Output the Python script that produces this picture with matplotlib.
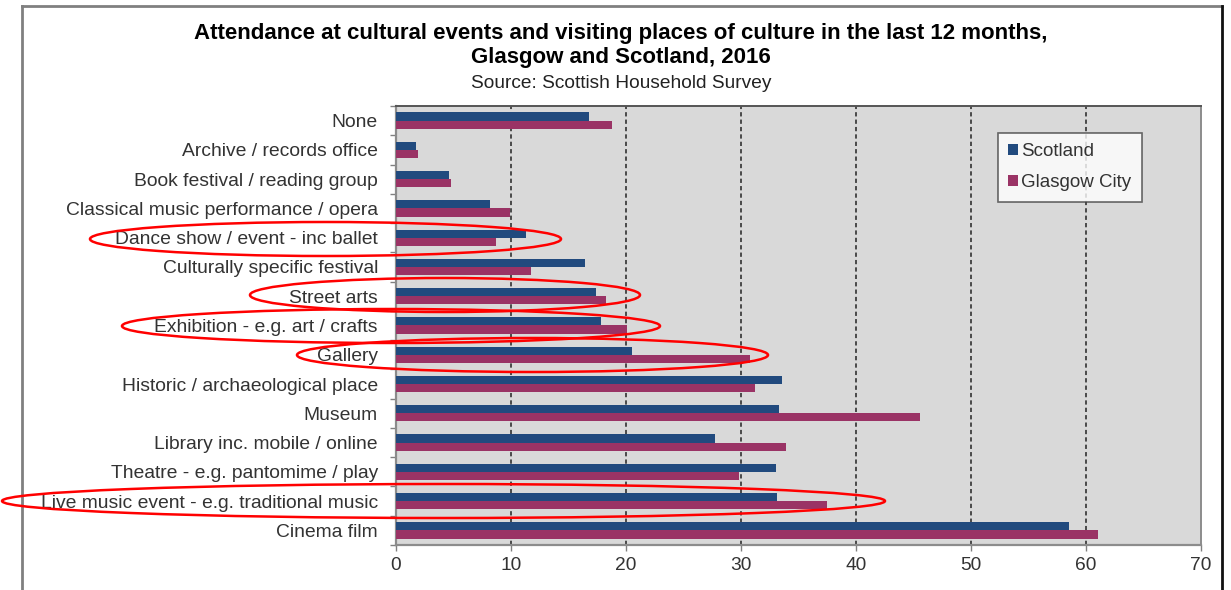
import matplotlib
matplotlib.use("Agg")
import matplotlib.pyplot as plt
from matplotlib.patches import Ellipse, Patch
from matplotlib.lines import Line2D
import numpy as np

plt.rcParams['font.family'] = ['Liberation Sans', 'DejaVu Sans']

categories = [
    "None",
    "Archive / records office",
    "Book festival / reading group",
    "Classical music performance / opera",
    "Dance show / event - inc ballet",
    "Culturally specific festival",
    "Street arts",
    "Exhibition - e.g. art / crafts",
    "Gallery",
    "Historic / archaeological place",
    "Museum",
    "Library inc. mobile / online",
    "Theatre - e.g. pantomime / play",
    "Live music event - e.g. traditional music",
    "Cinema film",
]
scotland = [16.8, 1.7, 4.6, 8.2, 11.3, 16.4, 17.4, 17.8, 20.5, 33.6, 33.3, 27.7, 33.0, 33.1, 58.5]
glasgow = [18.8, 1.9, 4.8, 9.9, 8.7, 11.7, 18.3, 20.1, 30.8, 31.2, 45.6, 33.9, 29.8, 37.5, 61.0]
x_ticks = [0, 10, 20, 30, 40, 50, 60, 70]

# categories highlighted with a red ring: (label, left px, right px, centre y px)
highlighted = [
    ("Dance show / event - inc ballet", 90, 561, 239),
    ("Street arts", 250, 640, 295),
    ("Exhibition - e.g. art / crafts", 122, 660, 326),
    ("Gallery", 297, 768, 355),
    ("Live music event - e.g. traditional music", 2, 885, 501),
]

W, H = 1231, 590
fig = plt.figure(figsize=(W / 100, H / 100), dpi=100)
fig.patch.set_facecolor("white")

left, right, top, bottom = 396, 1201, 106, 545
ax = fig.add_axes([left / W, 1 - bottom / H, (right - left) / W, (bottom - top) / H])
ax.set_facecolor("#d9d9d9")

n = len(categories)
y = np.arange(n)
bh = 0.28
blue = "#214a7e"
maroon = "#9a3365"
ax.barh(y - bh / 2, scotland, height=bh, color=blue, label="Scotland", zorder=3)
ax.barh(y + bh / 2, glasgow, height=bh, color=maroon, label="Glasgow City", zorder=3)

ax.set_xlim(0, 70)
ax.set_ylim(n - 0.5, -0.5)
ax.set_xticks(x_ticks)
ax.set_xticklabels([str(t) for t in x_ticks], fontsize=13.8, color="#333333")
ax.set_yticks(y)
ax.set_yticklabels(categories, fontsize=13.9, color="#333333")
ax.set_yticks(np.arange(n + 1) - 0.5, minor=True)
ax.tick_params(axis="y", which="major", length=0, pad=13)
ax.tick_params(axis="y", which="minor", length=4, width=1, color="#808080", direction="out")
ax.tick_params(axis="x", which="major", length=4, width=1, color="#808080", direction="out", pad=5)

for xv in x_ticks[1:-1]:
    ax.axvline(xv, color="#4a4a4a", lw=1.4, dashes=(2.2, 1.6), zorder=1)

for side in ["left", "bottom"]:
    ax.spines[side].set_color("#8c8c8c")
    ax.spines[side].set_linewidth(1.6)
ax.spines["top"].set_color("#555555")
ax.spines["top"].set_linewidth(1.4)
ax.spines["right"].set_color("#8c8c8c")
ax.spines["right"].set_linewidth(1.4)

# titles
fig.text(621 / W, 1 - 33 / H, "Attendance at cultural events and visiting places of culture in the last 12 months,",
         ha="center", va="center", fontsize=16, fontweight="bold", color="black")
fig.text(621 / W, 1 - 57 / H, "Glasgow and Scotland, 2016",
         ha="center", va="center", fontsize=16, fontweight="bold", color="black")
fig.text(621 / W, 1 - 83 / H, "Source: Scottish Household Survey",
         ha="center", va="center", fontsize=13.8, color="#222222")

# legend
handles = [Patch(facecolor=blue, edgecolor="none"), Patch(facecolor=maroon, edgecolor="none")]
leg = ax.legend(handles, ["Scotland", "Glasgow City"], loc="upper left",
                bbox_to_anchor=(998 / W, 1 - 133 / H), bbox_transform=fig.transFigure,
                borderaxespad=0, fancybox=False, frameon=True, fontsize=13.5,
                handlelength=0.5, handleheight=0.5, handletextpad=0.2,
                labelspacing=0.75, borderpad=0.55, labelcolor="#333333")
leg.get_frame().set_edgecolor("#444444")
leg.get_frame().set_linewidth(1.2)
leg.get_frame().set_facecolor("white")
leg.set_zorder(5)

# outer frame of the chart
frame_kw = dict(transform=fig.transFigure, clip_on=False)
fig.add_artist(Line2D([22 / W, 22 / W], [0, 1 - 6 / H], color="#808080", lw=2, **frame_kw))
fig.add_artist(Line2D([22 / W, 1222 / W], [1 - 6 / H, 1 - 6 / H], color="#808080", lw=2, **frame_kw))
fig.add_artist(Line2D([1222 / W, 1222 / W], [0, 1 - 6 / H], color="#111111", lw=2, **frame_kw))

# red rings around highlighted rows
for name, x0, x1, yc in highlighted:
    e = Ellipse(((x0 + x1) / 2 / 100, (H - yc) / 100), (x1 - x0) / 100, 0.34,
                transform=fig.dpi_scale_trans, fill=False, edgecolor="#ff0000", lw=1.8, zorder=10)
    fig.add_artist(e)

fig.savefig("out.png", dpi=100)
